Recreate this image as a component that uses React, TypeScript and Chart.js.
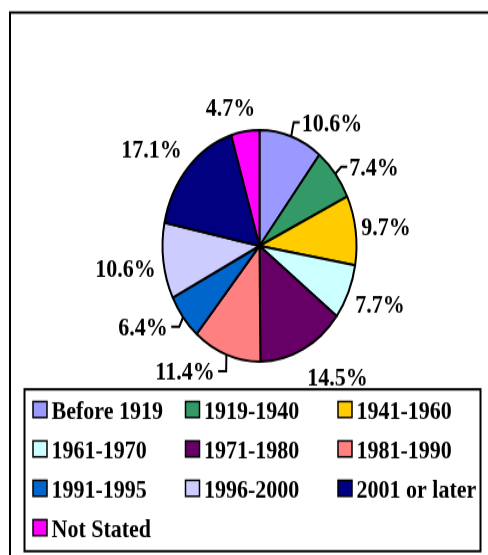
import React, { useEffect, useRef } from "react";
import { Chart, registerables } from "chart.js";

Chart.register(...registerables);

// ---- data ----
const categories = [
  "Before 1919",
  "1919-1940",
  "1941-1960",
  "1961-1970",
  "1971-1980",
  "1981-1990",
  "1991-1995",
  "1996-2000",
  "2001 or later",
  "Not Stated",
];
const shares = [10.6, 7.4, 9.7, 7.7, 14.5, 11.4, 6.4, 10.6, 17.1, 4.7];
const colors = [
  "#9999FF",
  "#339966",
  "#FFCC00",
  "#CCFFFF",
  "#660066",
  "#FF8080",
  "#0066CC",
  "#CCCCFF",
  "#000080",
  "#FF00FF",
];
const valueLabels = shares.map((v) => v.toFixed(1) + "%");

// label placement relative to the pie centre, in units of the pie radius
const labelPlacement: [number, number][] = [
  [0.747, -1.066],
  [1.18, -0.682],
  [1.304, -0.169],
  [1.242, 0.5],
  [0.804, 1.125],
  [-0.768, 1.082],
  [-1.201, 0.698],
  [-1.381, 0.189],
  [-1.113, -0.837],
  [-0.299, -1.2],
];
const hasLeader = [true, true, false, false, false, true, true, false, false, false];

const W = 488;
const H = 465;
const STRETCH = 555 / 465;
const FONT = 'bold 22px "Liberation Serif", "Times New Roman", serif';

const framePlugin = {
  id: "frame",
  beforeDraw(chart: any) {
    const ctx = chart.ctx;
    ctx.save();
    ctx.fillStyle = "#ffffff";
    ctx.fillRect(0, 0, W, H);
    ctx.strokeStyle = "#000";
    ctx.lineWidth = 2;
    ctx.strokeRect(10, 10.5, W + 40, H + 40);
    ctx.restore();
  },
};

const labelPlugin = {
  id: "pieLabels",
  afterDatasetsDraw(chart: any) {
    const ctx = chart.ctx;
    const meta = chart.getDatasetMeta(0);
    ctx.save();
    ctx.font = FONT;
    ctx.fillStyle = "#000";
    ctx.strokeStyle = "#000";
    ctx.textAlign = "center";
    ctx.textBaseline = "alphabetic";
    meta.data.forEach((arc: any, i: number) => {
      const p = arc.getProps(["x", "y", "startAngle", "endAngle", "outerRadius"], true);
      const r = p.outerRadius;
      const lx = p.x + labelPlacement[i][0] * r;
      const ly = p.y + labelPlacement[i][1] * r;
      const text = valueLabels[i];
      ctx.fillText(text, lx, ly + 7.4);
      if (hasLeader[i]) {
        const w = ctx.measureText(text).width;
        const mid = (p.startAngle + p.endAngle) / 2;
        const ex = p.x + Math.cos(mid) * r;
        const ey = p.y + Math.sin(mid) * r;
        const right = lx > p.x;
        const sx = right ? lx - w / 2 - 2 : lx + w / 2 + 3.5;
        const bx = right ? sx - 6 : sx + 8;
        ctx.lineWidth = 2;
        ctx.lineJoin = "miter";
        ctx.beginPath();
        ctx.moveTo(sx, ly);
        ctx.lineTo(bx, ly);
        ctx.lineTo(ex, ey);
        ctx.stroke();
      }
    });
    ctx.restore();
  },
};

const legendPlugin = {
  id: "boxLegend",
  afterDraw(chart: any) {
    const ctx = chart.ctx;
    ctx.save();
    // legend box
    ctx.strokeStyle = "#000";
    ctx.lineWidth = 2;
    ctx.strokeRect(24.5, 326.2, 456, 135.6);
    ctx.font = FONT;
    ctx.textAlign = "left";
    ctx.textBaseline = "alphabetic";
    const labels = chart.data.labels as string[];
    const bg = chart.data.datasets[0].backgroundColor as string[];
    labels.forEach((lab, i) => {
      const col = i % 3;
      const row = Math.floor(i / 3);
      const sx = 33 + col * 152.5;
      const cy = 343.1 + row * 33;
      ctx.fillStyle = bg[i];
      ctx.fillRect(sx, cy - 6.7, 14, 13.4);
      ctx.lineWidth = 1.5;
      ctx.strokeStyle = "#000";
      ctx.strokeRect(sx, cy - 6.7, 14, 13.4);
      ctx.fillStyle = "#000";
      ctx.fillText(lab, sx + 18.5, cy + 7.4);
    });
    ctx.restore();
  },
};

export default function App() {
  const ref = useRef<HTMLCanvasElement | null>(null);
  useEffect(() => {
    if (!ref.current) return;
    const chart = new Chart(ref.current, {
      type: "pie",
      data: {
        labels: categories,
        datasets: [
          {
            data: shares,
            backgroundColor: colors,
            borderColor: "#000",
            borderWidth: 2,
            radius: 97,
          } as any,
        ],
      },
      options: {
        responsive: false,
        animation: false,
        devicePixelRatio: 1,
        events: [],
        layout: { padding: { left: 160, right: 129, top: 109, bottom: 162 } },
        plugins: {
          legend: { display: false },
          tooltip: { enabled: false },
        },
      },
      plugins: [framePlugin, labelPlugin, legendPlugin],
    });
    return () => chart.destroy();
  }, []);
  return (
    <div
      style={{
        position: "absolute",
        left: 0,
        top: 0,
        width: W,
        height: H,
        transform: `scaleY(${STRETCH})`,
        transformOrigin: "0 0",
      }}
    >
      <canvas ref={ref} width={W} height={H} />
    </div>
  );
}
